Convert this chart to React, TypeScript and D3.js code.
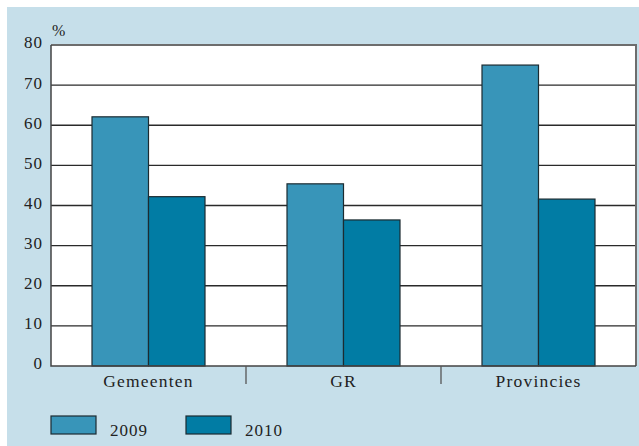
import React, { useEffect, useRef } from "react";
import * as d3 from "d3";

const categories = ["Gemeenten", "GR", "Provincies"];
const years = ["2009", "2010"];
const values2009 = [62.1, 45.4, 75.0];
const values2010 = [42.2, 36.4, 41.6];
const yTicks = [0, 10, 20, 30, 40, 50, 60, 70, 80];

const colors = ["#3895b9", "#017ca4"];

function App() {
  const svgRef = useRef<SVGSVGElement>(null);

  useEffect(() => {
    document.body.style.margin = "0";
    const width = 639;
    const height = 446;
    const margin = { top: 45, right: 3, bottom: 80, left: 51 };
    const innerW = width - margin.left - margin.right;
    const innerH = height - margin.top - margin.bottom;
    const font = "'Liberation Serif', serif";

    const svg = d3.select(svgRef.current).attr("width", width).attr("height", height);
    svg.selectAll("*").remove();

    // background panel
    svg.append("rect").attr("x", 7).attr("y", 7).attr("width", width - 7).attr("height", height - 7).attr("fill", "#c6dfea");

    const g = svg.append("g").attr("transform", `translate(${margin.left},${margin.top})`);

    const x0 = d3.scaleBand().domain(categories).range([0, innerW]).paddingInner(0).paddingOuter(0);
    const x1 = d3.scaleBand().domain(years).range([41, x0.bandwidth() - 41]);
    const y = d3.scaleLinear().domain([0, 80]).range([innerH, 0]);

    g.append("rect").attr("width", innerW).attr("height", innerH).attr("fill", "#fff");

    // grid lines
    g.selectAll(".grid")
      .data(yTicks.filter((d) => d > 0 && d < 80))
      .join("line")
      .attr("x1", 0)
      .attr("x2", innerW)
      .attr("y1", (d) => y(d))
      .attr("y2", (d) => y(d))
      .attr("stroke", "#2a2a2a")
      .attr("stroke-width", 1.3);

    // frame: top & right gray
    g.append("path")
      .attr("d", `M0,0H${innerW}V${innerH}`)
      .attr("fill", "none")
      .attr("stroke", "#6d6d6d")
      .attr("stroke-width", 2);

    const series = [values2009, values2010];
    categories.forEach((c, ci) => {
      years.forEach((yr, yi) => {
        const v = series[yi][ci];
        g.append("rect")
          .attr("x", (x0(c) as number) + (x1(yr) as number))
          .attr("y", y(v))
          .attr("width", x1.bandwidth())
          .attr("height", innerH - y(v))
          .attr("fill", colors[yi])
          .attr("stroke", "#1c2b31")
          .attr("stroke-width", 1.2);
      });
    });

    // left & bottom axis lines
    g.append("path")
      .attr("d", `M0,0V${innerH}H${innerW}`)
      .attr("fill", "none")
      .attr("stroke", "#444")
      .attr("stroke-width", 1.5);

    // y tick labels
    g.selectAll(".ylab")
      .data(yTicks)
      .join("text")
      .attr("x", -8)
      .attr("y", (d) => y(d))
      .attr("dy", "0.2em")
      .attr("text-anchor", "end")
      .attr("font-family", font)
      .attr("font-size", 17)
      .attr("letter-spacing", 1)
      .attr("fill", "#222")
      .text((d) => d);

    g.append("text")
      .attr("x", 1)
      .attr("y", -9)
      .attr("font-family", font)
      .attr("font-size", 16)
      .attr("fill", "#222")
      .text("%");

    // category separators
    g.selectAll(".sep")
      .data(categories.slice(1))
      .join("line")
      .attr("x1", (d) => x0(d) as number)
      .attr("x2", (d) => x0(d) as number)
      .attr("y1", innerH)
      .attr("y2", innerH + 18)
      .attr("stroke", "#555")
      .attr("stroke-width", 1.3);

    g.selectAll(".xlab")
      .data(categories)
      .join("text")
      .attr("x", (d) => (x0(d) as number) + x0.bandwidth() / 2)
      .attr("y", innerH + 21)
      .attr("text-anchor", "middle")
      .attr("font-family", font)
      .attr("font-size", 17.5)
      .attr("letter-spacing", 1.2)
      .attr("fill", "#222")
      .text((d) => d);

    // legend
    const legendX = [51, 186];
    years.forEach((yr, i) => {
      svg.append("rect")
        .attr("x", legendX[i])
        .attr("y", 416)
        .attr("width", 45)
        .attr("height", 18)
        .attr("fill", colors[i])
        .attr("stroke", "#1c2b31")
        .attr("stroke-width", 1.2);
      svg.append("text")
        .attr("x", legendX[i] + 59)
        .attr("y", 436)
        .attr("font-family", font)
        .attr("font-size", 17)
        .attr("letter-spacing", 1)
        .attr("fill", "#222")
        .text(yr);
    });
  }, []);

  return <svg ref={svgRef} style={{ display: "block" }}></svg>;
}

export default App;
